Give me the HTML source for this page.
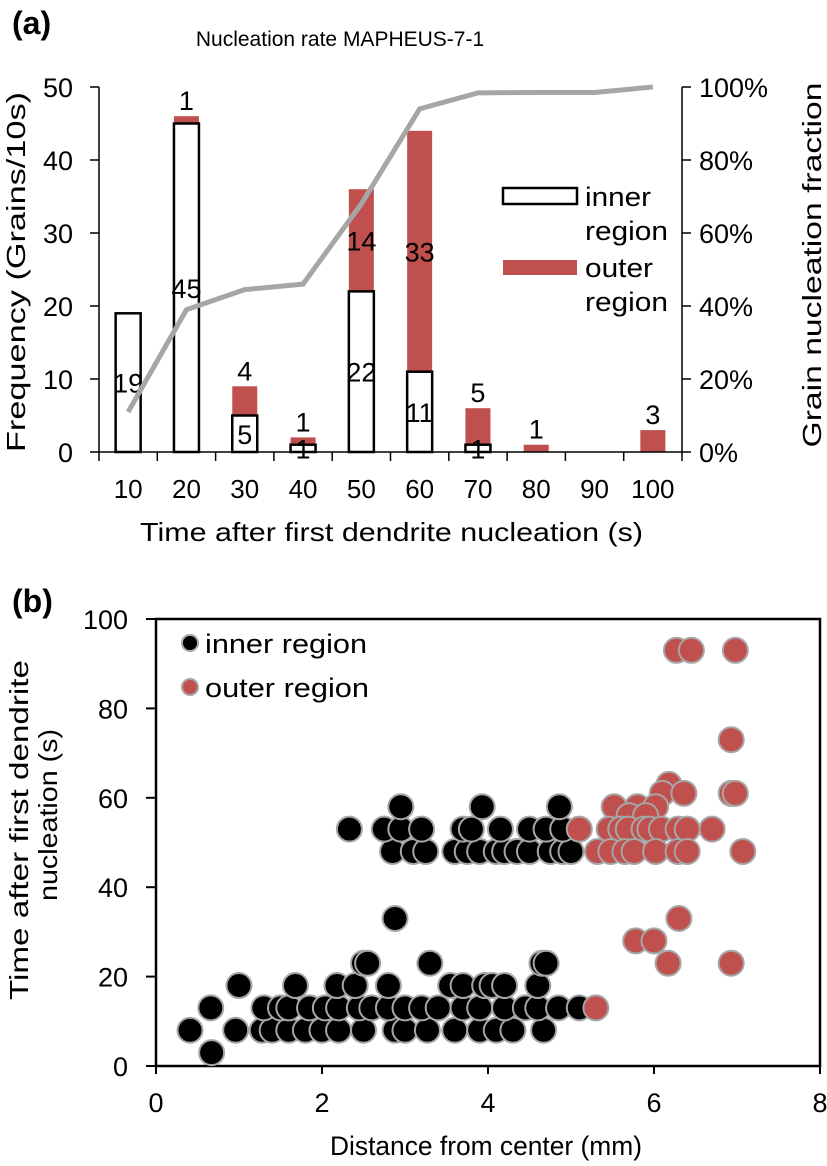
<!DOCTYPE html>
<html><head><meta charset="utf-8"><style>
html,body{margin:0;padding:0;background:#fff;}
svg{display:block;font-family:"Liberation Sans",Arial,sans-serif;}
</style></head><body>
<svg id="fig" width="827" height="1166" viewBox="0 0 827 1166" xmlns="http://www.w3.org/2000/svg">
<text x="12" y="34" font-size="32" font-weight="bold">(a)</text>
<text x="340" y="46" font-size="21" text-anchor="middle">Nucleation rate MAPHEUS-7-1</text>
<g id="ga"></g>
<text x="140" y="541" font-size="26" textLength="503" lengthAdjust="spacingAndGlyphs">Time after first dendrite nucleation (s)</text>
<text transform="translate(25,272) rotate(-90)" font-size="26" text-anchor="middle" textLength="360" lengthAdjust="spacingAndGlyphs">Frequency (Grains/10s)</text>
<text transform="translate(821,265) rotate(-90)" font-size="26" text-anchor="middle" textLength="365" lengthAdjust="spacingAndGlyphs">Grain nucleation fraction</text>
<rect x="503" y="188" width="74" height="16" fill="#fff" stroke="#000" stroke-width="2.5"/>
<text x="585" y="206" font-size="27" textLength="66" lengthAdjust="spacingAndGlyphs">inner</text>
<text x="585" y="240" font-size="27" textLength="83" lengthAdjust="spacingAndGlyphs">region</text>
<rect x="503" y="260" width="74" height="15" fill="#c0504d"/>
<text x="585" y="277" font-size="27" textLength="68" lengthAdjust="spacingAndGlyphs">outer</text>
<text x="585" y="311" font-size="27" textLength="83" lengthAdjust="spacingAndGlyphs">region</text>

<text x="12" y="612" font-size="32" font-weight="bold">(b)</text>
<g id="gb"></g>
<text x="330" y="1155" font-size="27" textLength="312" lengthAdjust="spacingAndGlyphs">Distance from center (mm)</text>
<text transform="translate(28,830) rotate(-90)" font-size="26" text-anchor="middle" textLength="340" lengthAdjust="spacingAndGlyphs">Time after first dendrite</text>
<text transform="translate(57,815) rotate(-90)" font-size="26" text-anchor="middle" textLength="172" lengthAdjust="spacingAndGlyphs">nucleation (s)</text>
<circle cx="190" cy="643" r="8" fill="#000" stroke="#a6a6a6" stroke-width="2"/>
<text x="205" y="653" font-size="27" textLength="162" lengthAdjust="spacingAndGlyphs">inner region</text>
<circle cx="190" cy="687" r="8" fill="#c0504d" stroke="#a6a6a6" stroke-width="2"/>
<text x="205" y="697" font-size="27" textLength="164" lengthAdjust="spacingAndGlyphs">outer region</text>
</svg>
<script>
const categories=[10,20,30,40,50,60,70,80,90,100];
const innerVals=[19,45,5,1,22,11,1,0,0,0];
const outerVals=[0,1,4,1,14,33,5,1,0,3];
const fraction=[0.11,0.39,0.445,0.46,0.68,0.94,0.984,0.985,0.985,1.0];
const yTicksA=[0,10,20,30,40,50];
const y2TicksA=["0%","20%","40%","60%","80%","100%"];

const innerPts=[[0.41,8],[0.96,8],[1.28,8],[1.4,8],[1.6,8],[1.8,8],[2.0,8],[2.2,8],[2.5,8],[2.88,8],[3.0,8],[3.27,8],[3.6,8],[3.9,8],[4.1,8],[4.3,8],[4.67,8],[0.67,3],
[0.66,13],[1.3,13],[1.5,13],[1.6,13],[1.85,13],[2.04,13],[2.2,13],[2.45,13],[2.6,13],[2.8,13],[3.0,13],[3.2,13],[3.4,13],[3.7,13],[3.9,13],[4.2,13],[4.45,13],[4.6,13],[4.85,13],[5.1,13],
[1.0,18],[1.68,18],[2.18,18],[2.4,18],[2.8,18],[3.55,18],[3.7,18],[3.96,18],[4.05,18],[4.2,18],[4.6,18],
[2.5,23],[2.55,23],[3.3,23],[4.65,23],[4.7,23],[2.88,33],
[2.85,48],[3.1,48],[3.25,48],[3.6,48],[3.75,48],[3.9,48],[4.1,48],[4.2,48],[4.35,48],[4.5,48],[4.75,48],[4.9,48],[5.0,48],
[2.33,53],[2.75,53],[2.95,53],[3.2,53],[3.7,53],[3.8,53],[4.15,53],[4.5,53],[4.7,53],[4.9,53],
[2.95,58],[3.93,58],[4.86,58]];
const outerPts=[[6.27,93],[6.45,93],[6.98,93],[6.93,73],[6.93,61],[6.98,61],[6.18,63],[6.1,61],[6.36,61],[5.52,58],[5.8,58],[6.02,58],[5.7,56],[5.9,56],
[5.1,53],[5.46,53],[5.6,53],[5.69,53],[5.88,53],[5.95,53],[6.09,53],[6.29,53],[6.4,53],[6.7,53],
[5.32,48],[5.48,48],[5.65,48],[5.76,48],[6.02,48],[6.29,48],[6.4,48],[7.07,48],
[5.78,28],[6.0,28],[6.3,33],[6.17,23],[6.93,23],[5.3,13]];
const xTicksB=[0,2,4,6,8];
const yTicksB=[0,20,40,60,80,100];

const NS="http://www.w3.org/2000/svg";
function mk(tag,attrs,parent,txt){const e=document.createElementNS(NS,tag);for(const k in attrs)e.setAttribute(k,attrs[k]);if(txt!==undefined)e.textContent=txt;parent.appendChild(e);return e;}

// Chart A
const ga=document.getElementById('ga');
const AL=99,AR=682,AT=87,AB=452,step=(AR-AL)/categories.length;
const ya=v=>AB-(v/50)*(AB-AT);
const y2a=f=>AB-f*(AB-AT);
const xa=i=>AL+step*(i+0.5);
let e;
yTicksA.forEach(t=>{
 e=mk('line',{x1:AL-9,x2:AL,y1:ya(t),y2:ya(t),stroke:'#000','stroke-width':1.5},ga);
 
 e=mk('text',{x:AL-26,y:ya(t)+10,'font-size':27,'text-anchor':'end'},ga,t);
 
});
y2TicksA.forEach((t,i)=>{
 const y=AB-i*(AB-AT)/5;
 e=mk('line',{x1:AR,x2:AR+9,y1:y,y2:y,stroke:'#000','stroke-width':1.5},ga);
 
 e=mk('text',{x:AR+17,y:y+10,'font-size':27},ga,t);
 
});
for(let i=0;i<=categories.length;i++){
 e=mk('line',{x1:AL+step*i,x2:AL+step*i,y1:AB,y2:AB+9,stroke:'#000','stroke-width':1.5},ga);
 
}
categories.forEach((c,i)=>{
 e=mk('text',{x:xa(i),y:498,'font-size':26,'text-anchor':'middle'},ga,c);
 
 const bw=25,x0=xa(i)-bw/2;
 if(outerVals[i]>0){
  e=mk('rect',{x:x0,y:ya(innerVals[i]+outerVals[i]),width:bw,height:ya(innerVals[i])-ya(innerVals[i]+outerVals[i]),fill:'#c0504d'},ga);
  
 }
 if(innerVals[i]>0){
  e=mk('rect',{x:x0,y:ya(innerVals[i]),width:bw,height:AB-ya(innerVals[i]),fill:'#fff',stroke:'#000','stroke-width':2.5},ga);
  
 }
});
e=mk('line',{x1:AL,x2:AL,y1:AT,y2:AB,stroke:'#000','stroke-width':1.5},ga);

e=mk('line',{x1:AR,x2:AR,y1:AT,y2:AB,stroke:'#000','stroke-width':1.5},ga);

e=mk('line',{x1:AL,x2:AR,y1:AB,y2:AB,stroke:'#000','stroke-width':1.5},ga);

categories.forEach((c,i)=>{
 if(innerVals[i]>0){
  e=mk('text',{x:xa(i),y:ya(innerVals[i]/2)+10,'font-size':27,'text-anchor':'middle'},ga,innerVals[i]);
  
 }
 if(outerVals[i]>0){
  const big=outerVals[i]>8;
  const yy=big?ya(innerVals[i]+outerVals[i]/2)+10:ya(innerVals[i]+outerVals[i])-6;
  e=mk('text',{x:xa(i),y:yy,'font-size':27,'text-anchor':'middle'},ga,outerVals[i]);
  
 }
});
e=mk('polyline',{points:fraction.map((f,i)=>xa(i)+','+y2a(f)).join(' '),fill:'none',stroke:'#a6a6a6','stroke-width':5},ga);


// Chart B
const gb=document.getElementById('gb');
const BL=156,BR=820,BT=619,BB=1066;
const xb=v=>BL+v/8*(BR-BL);
const yb=v=>BB-v/100*(BB-BT);
e=mk('rect',{x:BL,y:BT,width:BR-BL,height:BB-BT,fill:'#fff',stroke:'#000','stroke-width':2.5},gb);

yTicksB.forEach(t=>{
 e=mk('line',{x1:BL-10,x2:BL,y1:yb(t),y2:yb(t),stroke:'#000','stroke-width':2},gb);
 
 e=mk('text',{x:BL-28,y:yb(t)+10,'font-size':27,'text-anchor':'end'},gb,t);
 
});
xTicksB.forEach(t=>{
 e=mk('line',{x1:xb(t),x2:xb(t),y1:BB,y2:BB+8,stroke:'#000','stroke-width':2},gb);
 
 e=mk('text',{x:xb(t),y:1112,'font-size':27,'text-anchor':'middle'},gb,t);
 
});
innerPts.forEach(p=>{
 e=mk('circle',{cx:xb(p[0]),cy:yb(p[1]),r:12.5,fill:'#000',stroke:'#a6a6a6','stroke-width':2},gb);
 
});
outerPts.forEach(p=>{
 e=mk('circle',{cx:xb(p[0]),cy:yb(p[1]),r:12.5,fill:'#c0504d',stroke:'#a6a6a6','stroke-width':2},gb);
 
});
</script>
</body></html>
